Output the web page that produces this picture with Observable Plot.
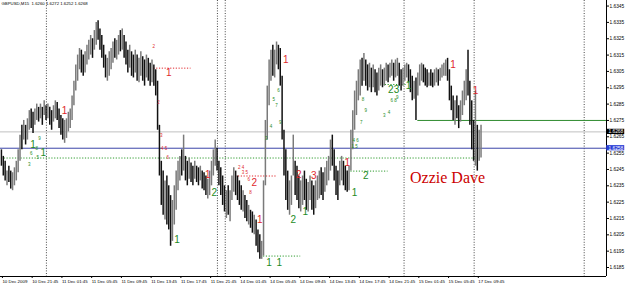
<!DOCTYPE html>
<html><head><meta charset="utf-8">
<script src="https://cdn.jsdelivr.net/npm/d3@7"></script>
<script src="https://cdn.jsdelivr.net/npm/@observablehq/plot@0.6"></script>
<style>html,body{margin:0;padding:0;background:#fff;overflow:hidden}</style>
</head><body><div id="chart"></div>
<script>
const symbol = "GBPUSD,M15";
const lastOHLC = [1.6260, 1.6272, 1.6252, 1.6268];

const high = [
1.6257,1.6253,1.6250,1.6244,1.6247,1.6244,1.6243,1.6246,1.6250,1.6257,
1.6266,1.6272,1.6275,1.6272,1.6276,1.6281,1.6282,1.6280,1.6282,1.6285,
1.6283,1.6285,1.6283,1.6287,1.6284,1.6285,1.6283,1.6281,1.6284,1.6287,
1.6286,1.6282,1.6278,1.6276,1.6275,1.6276,1.6280,1.6282,1.6290,1.6299,
1.6309,1.6315,1.6319,1.6318,1.6315,1.6317,1.6321,1.6324,1.6327,1.6325,
1.6330,1.6335,1.6336,1.6331,1.6327,1.6321,1.6315,1.6313,1.6317,1.6319,
1.6323,1.6325,1.6324,1.6327,1.6330,1.6331,1.6327,1.6323,1.6318,1.6321,
1.6317,1.6315,1.6318,1.6315,1.6313,1.6317,1.6314,1.6312,1.6315,1.6313,
1.6310,1.6312,1.6309,1.6306,1.6299,1.6272,1.6250,1.6244,1.6238,1.6241,
1.6235,1.6229,1.6226,1.6235,1.6244,1.6250,1.6253,1.6257,1.6266,1.6253,
1.6250,1.6252,1.6249,1.6247,1.6250,1.6247,1.6246,1.6247,1.6244,1.6243,
1.6241,1.6239,1.6244,1.6250,1.6257,1.6263,1.6258,1.6250,1.6246,1.6241,
1.6235,1.6232,1.6235,1.6232,1.6241,1.6246,1.6244,1.6241,1.6238,1.6235,
1.6232,1.6229,1.6226,1.6223,1.6220,1.6219,1.6217,1.6214,1.6208,1.6205,
1.6201,1.6238,1.6275,1.6296,1.6312,1.6318,1.6321,1.6318,1.6323,1.6321,
1.6319,1.6302,1.6269,1.6257,1.6244,1.6238,1.6241,1.6266,1.6250,1.6247,
1.6241,1.6238,1.6241,1.6244,1.6239,1.6237,1.6241,1.6238,1.6235,1.6238,
1.6241,1.6244,1.6246,1.6243,1.6246,1.6250,1.6253,1.6263,1.6266,1.6257,
1.6247,1.6244,1.6250,1.6253,1.6250,1.6247,1.6244,1.6247,1.6269,1.6281,
1.6293,1.6299,1.6306,1.6312,1.6313,1.6316,1.6312,1.6309,1.6310,1.6307,
1.6309,1.6306,1.6304,1.6307,1.6309,1.6306,1.6307,1.6310,1.6309,1.6310,
1.6312,1.6310,1.6312,1.6313,1.6310,1.6306,1.6307,1.6309,1.6310,1.6309,
1.6306,1.6302,1.6299,1.6301,1.6304,1.6309,1.6310,1.6309,1.6307,1.6306,
1.6304,1.6306,1.6304,1.6306,1.6307,1.6306,1.6307,1.6309,1.6310,1.6312,
1.6313,1.6306,1.6296,1.6290,1.6287,1.6290,1.6284,1.6287,1.6293,1.6299,
1.6306,1.6318,1.6299,1.6287,1.6275,1.6293,1.6272,1.6269,1.6272];

const low = [
1.6247,1.6241,1.6238,1.6235,1.6237,1.6233,1.6232,1.6235,1.6238,1.6243,
1.6250,1.6257,1.6263,1.6260,1.6263,1.6269,1.6270,1.6267,1.6272,1.6275,
1.6274,1.6276,1.6272,1.6278,1.6275,1.6276,1.6272,1.6269,1.6274,1.6276,
1.6275,1.6270,1.6266,1.6263,1.6261,1.6264,1.6268,1.6270,1.6275,1.6284,
1.6293,1.6299,1.6306,1.6304,1.6302,1.6304,1.6309,1.6312,1.6315,1.6313,
1.6318,1.6321,1.6324,1.6318,1.6313,1.6307,1.6301,1.6299,1.6302,1.6306,
1.6310,1.6313,1.6312,1.6315,1.6317,1.6318,1.6313,1.6309,1.6304,1.6307,
1.6302,1.6301,1.6304,1.6299,1.6298,1.6302,1.6299,1.6296,1.6301,1.6299,
1.6296,1.6298,1.6296,1.6290,1.6269,1.6241,1.6223,1.6217,1.6214,1.6211,
1.6208,1.6198,1.6201,1.6211,1.6220,1.6232,1.6238,1.6241,1.6244,1.6238,
1.6235,1.6239,1.6237,1.6235,1.6239,1.6237,1.6235,1.6238,1.6233,1.6232,
1.6229,1.6227,1.6229,1.6235,1.6241,1.6247,1.6244,1.6235,1.6229,1.6223,
1.6219,1.6215,1.6217,1.6213,1.6226,1.6231,1.6229,1.6226,1.6223,1.6220,
1.6219,1.6215,1.6213,1.6211,1.6209,1.6206,1.6205,1.6198,1.6194,1.6190,
1.6190,1.6192,1.6235,1.6263,1.6284,1.6299,1.6302,1.6301,1.6309,1.6306,
1.6296,1.6263,1.6241,1.6226,1.6220,1.6217,1.6223,1.6241,1.6229,1.6226,
1.6221,1.6219,1.6223,1.6226,1.6220,1.6219,1.6226,1.6220,1.6217,1.6221,
1.6226,1.6227,1.6229,1.6226,1.6231,1.6235,1.6238,1.6244,1.6247,1.6238,
1.6229,1.6226,1.6235,1.6238,1.6235,1.6232,1.6231,1.6232,1.6244,1.6257,
1.6269,1.6278,1.6287,1.6290,1.6296,1.6299,1.6296,1.6293,1.6295,1.6292,
1.6295,1.6292,1.6290,1.6293,1.6296,1.6295,1.6296,1.6299,1.6298,1.6301,
1.6302,1.6299,1.6301,1.6302,1.6296,1.6293,1.6296,1.6299,1.6301,1.6298,
1.6292,1.6287,1.6288,1.6275,1.6290,1.6296,1.6299,1.6298,1.6296,1.6295,
1.6296,1.6296,1.6295,1.6296,1.6298,1.6296,1.6299,1.6301,1.6302,1.6302,
1.6299,1.6287,1.6281,1.6275,1.6272,1.6276,1.6270,1.6274,1.6278,1.6284,
1.6287,1.6290,1.6272,1.6257,1.6250,1.6247,1.6244,1.6250,1.6252];

const dir = ("dddudduuuu"+"ududuudduu"+"dudududduu"+"dddduuuuuu"+"uuudduuuud"+
 "uuddddduuu"+"uduududddu"+"dduduuddud"+"duddddddud"+"dduuuuudud"+
 "dudduddudd"+"duuuuudddd"+"duduuudddd"+"uddudduddd"+"uuuuuuduud"+
 "ddddduuudd"+"duudduuddu"+"uudduuuudd"+"dduuddduuu"+"uuuududdud"+
 "udduuduudu"+"uduudduuud"+"dduduuuddd"+"udduuduuuu"+"ddddudduuu"+"udddduduu").split("");

const xTickIndex = [0,16,32,48,64,80,96,112,128,144,160,176,192,208,224,240,256];
const xTickLabel = ["10 Dec 2009","10 Dec 21:45","11 Dec 01:45","11 Dec 05:45","11 Dec 09:45",
 "11 Dec 13:45","11 Dec 17:45","11 Dec 21:45","14 Dec 01:45","14 Dec 05:45","14 Dec 09:45",
 "14 Dec 13:45","14 Dec 17:45","14 Dec 21:45","15 Dec 01:45","15 Dec 05:45","17 Dec 09:45"];
const yTicks = [1.6185,1.6195,1.6205,1.6215,1.6225,1.6235,1.6245,1.6255,1.6265,1.6275,1.6285,1.6295,1.6305,1.6315,1.6325,1.6335,1.6345];

const separators = [24.2, 116.2, 120.4, 216.6, 254.3, 313.5];
const blueLevel = 1.6258;
const greenLevel = {start: 224, price: 1.6275};
const dottedRed = [
  {x1: 82, x2: 102, p: 1.6307},
  {x1: 126, x2: 148, p: 1.6241}
];
const dottedGreen = [
  {x1: 0, x2: 257, p: 1.6252},
  {x1: 141, x2: 161, p: 1.6192},
  {x1: 188, x2: 208, p: 1.6244},
  {x1: 205, x2: 218, p: 1.6297}
];
const tdRed = [
 [34,1.6281,"1"],[90,1.6304,"1"],[111,1.6242,"1"],[136,1.6237,"2"],
 [139,1.6214,"1"],[153,1.6312,"1"],[160,1.6242,"2"],[168,1.6241,"3"],
 [186,1.6249,"1"],[243,1.6309,"1"],[255,1.6293,"1"]
];
const tdGreen = [
 [17,1.6260,"1"],[22.5,1.6255,"1"],[94.5,1.6202,"1"],[114.5,1.6231,"2"],
 [144,1.6188,"1"],[149.5,1.6188,"1"],[157,1.6214,"2"],[163.5,1.6219,"1"],
 [190,1.6231,"1"],[196,1.6241,"2"],[211,1.6294,"23"],[219,1.6296,"1"]
];
const tdRedSmall = [
 [82,1.6320,"2"],[84.5,1.6286,"2"],[86,1.6266,"3"],[87.5,1.6258,"4 5"],[89.5,1.6252,"6"],
 [129,1.6246,"2 4"],[131,1.6243,"3 5"],[133,1.6239,"6"],[134,1.6231,"8"]
];
const tdGreenSmall = [
 [20.5,1.6264,"9"],[19,1.6258,"8"],[16,1.6255,"6"],[19.5,1.6252,"5"],[15,1.6248,"3"],
 [149,1.6293,"6"],[146.5,1.6288,"5"],[148,1.6284,"7"],[145,1.6271,"4"],[150,1.6274,"9"],[142.5,1.6264,"3"],
 [194.5,1.6288,"8"],[196,1.6281,"9"],[193.5,1.6274,"7"],[190.5,1.6263,"4 6"],[190,1.6259,"1 5"],
 [206,1.6278,"3"],[208.5,1.6280,"4"],[211,1.6287,"6 8"],[213,1.6289,"9"]
];
const signature = {i: 240, p: 1.6240, text: "Ozzie Dave"};

const bars = high.map((h, i) => ({i, high: h, low: low[i], dir: dir[i]}));
const RED = "#e0282d", GREEN = "#1e8c1e";
const FF = "Liberation Sans, Arial, sans-serif";

const chart = Plot.plot({
  width: 625, height: 284,
  marginLeft: 0, marginRight: 19, marginTop: 0, marginBottom: 8,
  style: {background: "#fff", fontFamily: FF},
  x: {domain: [-0.5, 325.5], axis: null},
  y: {domain: [1.61795, 1.63484], axis: null},
  marks: [
    Plot.ruleX(separators, {stroke: "#333", strokeDasharray: "1,1.6", strokeWidth: 0.9}),
    Plot.ruleY([lastOHLC[3]], {stroke: "#c0c0c0", strokeWidth: 1}),
    Plot.ruleY([blueLevel], {stroke: "#3b44a8", strokeWidth: 1}),
    Plot.ruleY([greenLevel], {x1: d => d.start, x2: 325.5, y: d => d.price, stroke: "#2e8b2e", strokeWidth: 1}),
    Plot.ruleY(dottedRed, {x1: "x1", x2: "x2", y: "p", stroke: RED, strokeDasharray: "1.2,1.6", strokeWidth: 1}),
    Plot.ruleY(dottedGreen, {x1: "x1", x2: "x2", y: "p", stroke: "#2e9b2e", strokeDasharray: "1.2,1.6", strokeWidth: 1}),
    Plot.ruleX(bars.filter(d => d.dir === "u"), {x: "i", y1: "low", y2: "high", stroke: "#7a7a7a", strokeWidth: 1.5}),
    Plot.ruleX(bars.filter(d => d.dir === "d"), {x: "i", y1: "low", y2: "high", stroke: "#111", strokeWidth: 1.5}),
    Plot.text(tdRedSmall, {x: d => d[0], y: d => d[1], text: d => d[2], fill: RED, fontSize: 4.5, fontFamily: FF}),
    Plot.text(tdGreenSmall, {x: d => d[0], y: d => d[1], text: d => d[2], fill: GREEN, fontSize: 4.5, fontFamily: FF}),
    Plot.text(tdRed, {x: d => d[0], y: d => d[1], text: d => d[2], fill: RED, fontSize: 10, fontFamily: FF}),
    Plot.text(tdGreen, {x: d => d[0], y: d => d[1], text: d => d[2], fill: GREEN, fontSize: 10, fontFamily: FF}),
    Plot.text([signature], {x: "i", y: "p", text: "text", fill: "#cc0000", fontSize: 16, fontFamily: "Liberation Serif, Times New Roman, serif"}),
    Plot.text([symbol + "  " + lastOHLC.map(v => v.toFixed(4)).join(" ")], {frameAnchor: "top-left", dx: 1, dy: 1, fontSize: 4.3, fill: "#000", fontFamily: FF}),
    Plot.ruleX([325.5], {stroke: "#000", strokeWidth: 1}),
    Plot.ruleY([1.61795], {stroke: "#000", strokeWidth: 1}),
    Plot.axisY({anchor: "right", ticks: yTicks, tickFormat: d => d.toFixed(4), tickSize: 2, tickPadding: 1, fontSize: 4.8, label: null, fontFamily: FF}),
    Plot.axisX({anchor: "bottom", ticks: xTickIndex, tickFormat: d => xTickLabel[xTickIndex.indexOf(d)], tickSize: 2, tickPadding: 1, textAnchor: "start", dx: 1, fontSize: 4.4, label: null, fontFamily: FF}),
    Plot.rect([lastOHLC[3]], {x1: 325.6, x2: 335.3, y1: d => d - 0.00016, y2: d => d + 0.00016, fill: "#000"}),
    Plot.text([lastOHLC[3]], {x: 325.5, y: d => d, dx: 2, text: d => d.toFixed(4), textAnchor: "start", fill: "#fff", fontSize: 4.8, fontFamily: FF}),
    Plot.rect([blueLevel], {x1: 325.6, x2: 335.3, y1: d => d - 0.00016, y2: d => d + 0.00016, fill: "#2b3fd6"}),
    Plot.text([blueLevel], {x: 325.5, y: d => d, dx: 2, text: d => d.toFixed(4), textAnchor: "start", fill: "#fff", fontSize: 4.8, fontFamily: FF})
  ]
});
document.getElementById("chart").appendChild(chart);
</script>
</body></html>
